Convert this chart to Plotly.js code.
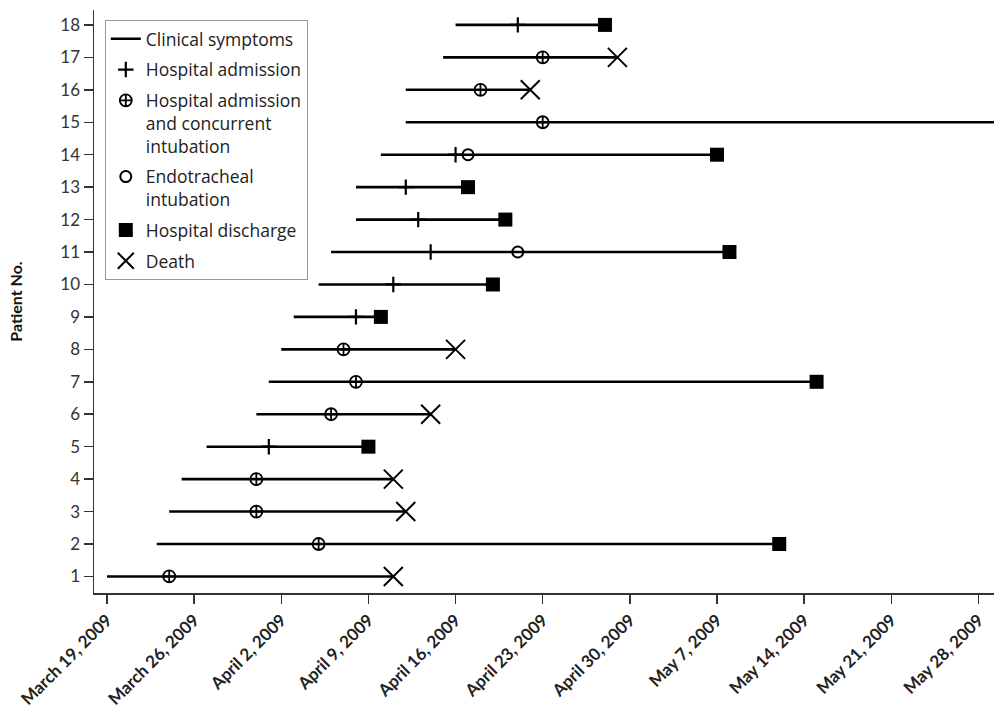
<!DOCTYPE html>
<html><head><meta charset="utf-8">
<script src="https://cdn.plot.ly/plotly-3.0.1.min.js"></script>
<style>html,body{margin:0;padding:0;background:#fff}#chart{width:994px;height:716px}</style>
</head><body><div id="chart"></div>
<script>
// ---- data ----
const patients = [1,2,3,4,5,6,7,8,9,10,11,12,13,14,15,16,17,18];
const symptomOnset = ['2009-03-19','2009-03-23','2009-03-24','2009-03-25','2009-03-27','2009-03-31','2009-04-01','2009-04-02','2009-04-03','2009-04-05','2009-04-06','2009-04-08','2009-04-08','2009-04-10','2009-04-12','2009-04-12','2009-04-15','2009-04-16'];
const hospitalAdmission = [null,null,null,null,'2009-04-01',null,null,null,'2009-04-08','2009-04-11','2009-04-14','2009-04-13','2009-04-12','2009-04-16',null,null,null,'2009-04-21'];
const admissionWithIntubation = ['2009-03-24','2009-04-05','2009-03-31','2009-03-31',null,'2009-04-06','2009-04-08','2009-04-07',null,null,null,null,null,null,'2009-04-23','2009-04-18','2009-04-23',null];
const endotrachealIntubation = [null,null,null,null,null,null,null,null,null,null,'2009-04-21',null,null,'2009-04-17',null,null,null,null];
const hospitalDischarge = [null,'2009-05-12',null,null,'2009-04-09',null,'2009-05-15',null,'2009-04-10','2009-04-19','2009-05-08','2009-04-20','2009-04-17','2009-05-07',null,null,null,'2009-04-28'];
const death = ['2009-04-11',null,'2009-04-12','2009-04-11',null,'2009-04-14',null,'2009-04-16',null,null,null,null,null,null,null,'2009-04-22','2009-04-29',null];
const stillInHospital = '2009-06-01'; // patient 15: no outcome yet, line runs past the axis
const xTickDates = ['2009-03-19','2009-03-26','2009-04-02','2009-04-09','2009-04-16','2009-04-23','2009-04-30','2009-05-07','2009-05-14','2009-05-21','2009-05-28'];
const xTickLabels = ['March 19, 2009','March 26, 2009','April 2, 2009','April 9, 2009','April 16, 2009','April 23, 2009','April 30, 2009','May 7, 2009','May 14, 2009','May 21, 2009','May 28, 2009'];

// ---- build traces ----
const lx = [], ly = [];
patients.forEach((p, i) => {
  const end = hospitalDischarge[i] || death[i] || stillInHospital;
  lx.push(symptomOnset[i], end, null);
  ly.push(p, p, null);
});
function pts(arr){
  const x = [], y = [];
  arr.forEach((d, i) => { if (d) { x.push(d); y.push(patients[i]); } });
  return {x, y};
}
const K = '#000';
const traces = [
  {type:'scatter', mode:'lines', name:'Clinical symptoms', legendgroup:'a', x:lx, y:ly,
   line:{color:K, width:2.6}, hoverinfo:'skip'},
  Object.assign({type:'scatter', mode:'markers', name:'Hospital admission', legendgroup:'b',
   marker:{symbol:'cross-thin-open', size:11, color:K, line:{color:K, width:2.2}}}, pts(hospitalAdmission)),
  Object.assign({type:'scatter', mode:'markers', name:'Hospital admission<br>and concurrent<br>intubation', legendgroup:'c',
   marker:{symbol:'circle-cross-open', size:12, color:K, line:{color:K, width:1.8}}}, pts(admissionWithIntubation)),
  Object.assign({type:'scatter', mode:'markers', name:'Endotracheal<br>intubation', legendgroup:'d',
   marker:{symbol:'circle-open', size:11, color:K, line:{color:K, width:2}}}, pts(endotrachealIntubation)),
  Object.assign({type:'scatter', mode:'markers', name:'Hospital discharge', legendgroup:'e',
   marker:{symbol:'square', size:14, color:K, line:{width:0}}}, pts(hospitalDischarge)),
  Object.assign({type:'scatter', mode:'markers', name:'Death', legendgroup:'f',
   marker:{symbol:'x-thin-open', size:19, color:K, line:{color:K, width:2}}}, pts(death))
];

const layout = {
  width:994, height:716,
  margin:{l:94, r:0, t:10, b:123},
  paper_bgcolor:'#fff', plot_bgcolor:'#fff',
  showlegend:true,
  legend:{x:0.012, y:0.983, xanchor:'left', yanchor:'top', bgcolor:'#fff',
    bordercolor:'#999', borderwidth:1, valign:'top', traceorder:'grouped', tracegroupgap:5,
    font:{family:'"Open Sans", sans-serif', size:17.5, color:'#222'}},
  xaxis:{type:'date', range:['2009-03-17 23:00','2009-05-29 06:00'],
    tickvals:xTickDates, ticktext:xTickLabels, tickangle:-45,
    tickfont:{family:'Lato, sans-serif', size:17, color:'#222', weight:'bold'},
    ticks:'outside', ticklen:9, tickwidth:1.5, tickcolor:'#333',
    showline:true, linecolor:'#333', linewidth:1.5, showgrid:false, zeroline:false, automargin:false},
  yaxis:{range:[0.49, 18.46], tickvals:patients, ticktext:patients.map(String),
    tickfont:{family:'Lato, sans-serif', size:17, color:'#333'},
    ticks:'outside', ticklen:9, tickwidth:1.5, tickcolor:'#333',
    showline:true, linecolor:'#333', linewidth:1.5, showgrid:false, zeroline:false, automargin:false,
    title:{text:'Patient No.', standoff:34, font:{family:'Lato, sans-serif', size:16, color:'#111', weight:'bold'}}}
};
Plotly.newPlot('chart', traces, layout, {displayModeBar:false, staticPlot:true});
</script>
</body></html>
